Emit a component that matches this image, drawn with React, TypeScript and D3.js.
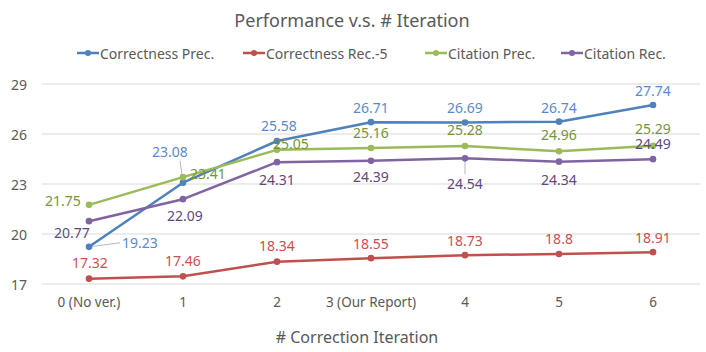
import React, { useEffect, useRef } from "react";
import * as d3 from "d3";

const categories = ["0 (No ver.)", "1", "2", "3 (Our Report)", "4", "5", "6"];
const seriesNames = ["Correctness Prec.", "Correctness Rec.-5", "Citation Prec.", "Citation Rec."];
const correctnessPrec = [19.23, 23.08, 25.58, 26.71, 26.69, 26.74, 27.74];
const correctnessRec5 = [17.32, 17.46, 18.34, 18.55, 18.73, 18.8, 18.91];
const citationPrec = [21.75, 23.41, 25.05, 25.16, 25.28, 24.96, 25.29];
const citationRec = [20.77, 22.09, 24.31, 24.39, 24.54, 24.34, 24.49];
const yTicks = [17, 20, 23, 26, 29];

// label placement (dx, dy from the point), like the hand-moved excel labels
const labelOffsets = [
  [[51, -4], [-13, -31], [2, -16], [0, -15], [0, -15], [0, -14], [0, -15]],
  [[1, -16], [0, -16], [0, -16], [0, -15], [0, -15], [0, -16], [0, -15]],
  [[-26, -4], [25, -4], [14, -6], [0, -16], [0, -17], [0, -17], [0, -17]],
  [[-17, 11], [2, 16], [0, 17], [0, 16], [0, 25], [0, 18], [0, -16]],
];

const lineColors = ["#4F81BD", "#C0504D", "#9BBB59", "#8064A2"];
const labelColors = ["#5A8BC9", "#C9504E", "#77933C", "#5F497A"];

const FONT = "'Noto Sans', 'Liberation Sans', sans-serif";

export default function App() {
  const ref = useRef<SVGSVGElement>(null);

  useEffect(() => {
    const width = 706;
    const height = 352;
    const svg = d3.select(ref.current);
    svg.selectAll("*").remove();
    svg.attr("width", width).attr("height", height).style("font-family", FONT);

    const x = d3.scalePoint().domain(categories).range([42, 700]).padding(0.5);
    const y = d3.scaleLinear().domain([17, 29]).range([284, 84]);

    svg.append("rect").attr("width", width).attr("height", height).attr("fill", "#fff");

    // title
    svg.append("text")
      .attr("x", 352).attr("y", 20)
      .attr("text-anchor", "middle").attr("dominant-baseline", "central")
      .attr("fill", "#595959").style("font-size", "18px")
      .text("Performance v.s. # Iteration");

    // grid
    svg.append("g").selectAll("line").data(yTicks).join("line")
      .attr("x1", 42).attr("x2", 700)
      .attr("y1", (d) => y(d)).attr("y2", (d) => y(d))
      .attr("stroke", "#D9D9D9").attr("stroke-width", 1);

    svg.append("g").selectAll("text").data(yTicks).join("text")
      .attr("x", 27).attr("y", (d) => y(d))
      .attr("text-anchor", "end").attr("dominant-baseline", "central")
      .attr("fill", "#595959").style("font-size", "14px")
      .text((d) => d);

    svg.append("g").selectAll("text").data(categories).join("text")
      .attr("x", (d) => x(d)!).attr("y", 302)
      .attr("text-anchor", "middle").attr("dominant-baseline", "central")
      .attr("fill", "#595959").style("font-size", "13.5px")
      .text((d) => d);

    svg.append("text")
      .attr("x", 357).attr("y", 337)
      .attr("text-anchor", "middle").attr("dominant-baseline", "central")
      .attr("fill", "#595959").style("font-size", "16px")
      .text("# Correction Iteration");

    // legend
    const legendX = [77, 243, 425, 561];
    const lg = svg.append("g");
    seriesNames.forEach((name, i) => {
      const g = lg.append("g").attr("transform", `translate(${legendX[i]},53)`);
      g.append("line").attr("x1", 0).attr("x2", 22).attr("stroke", lineColors[i]).attr("stroke-width", 2.5);
      g.append("circle").attr("cx", 11).attr("r", 3).attr("fill", lineColors[i]);
      g.append("text").attr("x", 23).attr("dominant-baseline", "central")
        .attr("fill", "#595959").style("font-size", "14px").text(name);
    });

    const allSeries = [correctnessPrec, correctnessRec5, citationPrec, citationRec];
    const line = d3.line<number>().x((_, i) => x(categories[i])!).y((d) => y(d));

    // leader lines
    const leaders = [[0, 0], [0, 1], [3, 4]];
    leaders.forEach(([s, i]) => {
      const px = x(categories[i])!;
      const py = y(allSeries[s][i]);
      const [dx, dy] = labelOffsets[s][i];
      const lx = px + dx + (dx > 20 ? -20 : dx < -5 ? 10 : 0);
      const ly = py + dy + (dy < -20 ? 9 : dy > 20 ? -9 : 0);
      svg.append("line")
        .attr("x1", px).attr("y1", py).attr("x2", lx).attr("y2", ly)
        .attr("stroke", "#A6A6A6").attr("stroke-width", 0.8);
    });

    allSeries.forEach((vals, s) => {
      const g = svg.append("g");
      g.append("path").attr("d", line(vals)!).attr("fill", "none")
        .attr("stroke", lineColors[s]).attr("stroke-width", 2.5).attr("stroke-linejoin", "round");
      g.selectAll("circle").data(vals).join("circle")
        .attr("cx", (_, i) => x(categories[i])!).attr("cy", (d) => y(d))
        .attr("r", 3.3).attr("fill", lineColors[s]);
    });

    allSeries.forEach((vals, s) => {
      svg.append("g").selectAll("text").data(vals).join("text")
        .attr("x", (_, i) => x(categories[i])! + labelOffsets[s][i][0])
        .attr("y", (d, i) => y(d) + labelOffsets[s][i][1])
        .attr("text-anchor", "middle").attr("dominant-baseline", "central")
        .attr("fill", labelColors[s]).style("font-size", "14px")
        .text((d) => d);
    });
  }, []);

  return <svg ref={ref} style={{ position: "absolute", left: 0, top: 0 }} />;
}
